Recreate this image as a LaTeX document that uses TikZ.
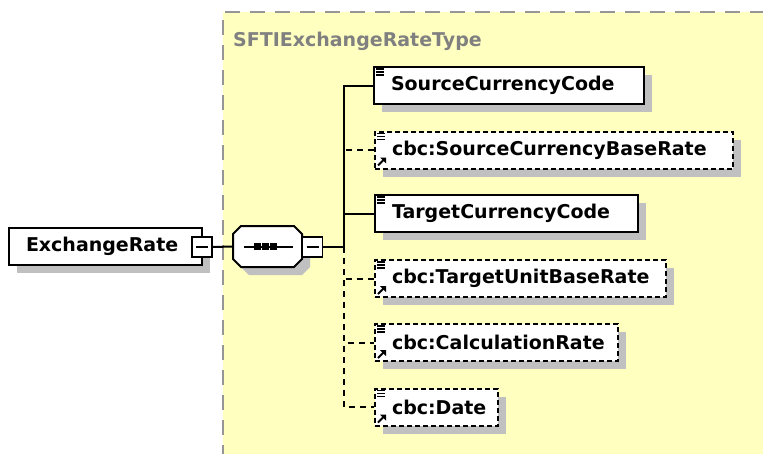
\documentclass[tikz,border=0pt]{standalone}
\usepackage{fontspec}
\setmainfont{DejaVu Sans}
\usetikzlibrary{shadows}
\definecolor{typebg}{RGB}{255,255,192}
\definecolor{typeborder}{RGB}{150,150,150}
\definecolor{shadowgray}{RGB}{192,192,192}
\newfontfamily\elemfont{DejaVu Sans}
\tikzset{
  shad/.style={general shadow={fill=shadowgray, shadow xshift=8pt, shadow yshift=-8pt}},
  elem/.style={shad, draw=black, line width=2pt, fill=white, minimum height=37pt,
    anchor=west, font=\elemfont\bfseries\fontsize{19}{21}\selectfont, inner xsep=17pt, align=left, inner ysep=0pt},
  optelem/.style={elem, dash pattern=on 5pt off 3pt},
  conn/.style={line width=2pt, black},
  optconn/.style={conn, dash pattern=on 6pt off 5pt},
  minusbox/.style={draw=black, line width=1.8pt, fill=white, minimum size=20pt, inner sep=0pt},
  iconline/.style={line width=1.2pt, black},
}
\newcommand{\minussign}[1]{\draw[line width=1.8pt] ([xshift=-6pt]#1.center) -- ([xshift=6pt]#1.center);}
\newcommand{\docicon}[1]{%
  \foreach \dy in {3,6,9} {\draw[iconline] ([xshift=3pt,yshift=-\dy pt]#1.north west) -- ++(8pt,0);}}
\newcommand{\refarrow}[1]{%
  \draw[line width=2pt] ([xshift=4pt,yshift=4pt]#1.south west) -- ++(6pt,6pt);
  \fill ([xshift=12pt,yshift=12pt]#1.south west) -- ++(-6pt,0) -- ++(6pt,-6pt) -- cycle;}
\begin{document}
\begin{tikzpicture}[x=1pt,y=-1pt]
\useasboundingbox (0,0) rectangle (763,453);
% type area
\fill[typebg] (223,12) rectangle (770,460);
\draw[typeborder, line width=2pt, dash pattern=on 15pt off 10pt] (223,460) -- (223,12) -- (770,12);
\node[anchor=west, text=gray, font=\elemfont\bfseries\fontsize{19}{21}\selectfont, inner sep=0pt] (typelabel) at (233,41) {SFTIExchangeRateType};

% root element
\node[elem, anchor=center, minimum width=193pt, text width=159pt, inner xsep=17pt, align=left] (root) at (105.5,246) {ExchangeRate};
\node[minusbox] (rootminus) at (202,247) {};
\minussign{rootminus}

% sequence compositor
\node[minimum width=69pt, minimum height=41pt, inner sep=0pt] (seq) at (267.5,246.5) {};
\fill[shadowgray] (241+8,226+8) -- (294+8,226+8) -- (302+8,234+8) -- (302+8,259+8) -- (294+8,267+8) -- (241+8,267+8) -- (233+8,259+8) -- (233+8,234+8) -- cycle;
\filldraw[fill=white, draw=black, line width=2pt] (241,226) -- (294,226) -- (302,234) -- (302,259) -- (294,267) -- (241,267) -- (233,259) -- (233,234) -- cycle;
\draw[line width=2pt] (244,246.5) coordinate (seqa) -- (293,246.5) coordinate (seqb);
\foreach \xx in {257,265,273} {\fill (\xx-3.5,243) rectangle (\xx+3.5,250);}
\node[minusbox] (seqminus) at (312.5,247) {};
\minussign{seqminus}
\draw[conn] (rootminus.east) -- (seq.west);
\draw[conn] (seqminus.east) -- (344,247) coordinate (fork);

% children
\node[elem, minimum width=270pt, text width=236pt] (src) at (373,85.5) {SourceCurrencyCode};
\node[optelem, minimum width=358pt, text width=324pt] (srcbase) at (374,150) {cbc:SourceCurrencyBaseRate};
\node[elem, minimum width=263pt, text width=229pt] (tgt) at (374,213.5) {TargetCurrencyCode};
\node[optelem, minimum width=291pt, text width=257pt] (tgtunit) at (374,278.5) {cbc:TargetUnitBaseRate};
\node[optelem, minimum width=243pt, text width=209pt] (calc) at (374,342.5) {cbc:CalculationRate};
\node[optelem, minimum width=123pt, text width=89pt] (date) at (374,407) {cbc:Date};

\foreach \n in {src,tgt,srcbase,tgtunit,calc,date} {\docicon{\n}}
\foreach \n in {srcbase,tgtunit,calc,date} {\refarrow{\n}}

\draw[optconn] (fork) |- (srcbase.west);
\draw[optconn] (fork) |- (tgtunit.west);
\draw[optconn] (fork) |- (calc.west);
\draw[optconn] (fork) |- (date.west);
\draw[conn] (fork) |- (src.west);
\draw[conn] (fork) |- (tgt.west);
\end{tikzpicture}
\end{document}
